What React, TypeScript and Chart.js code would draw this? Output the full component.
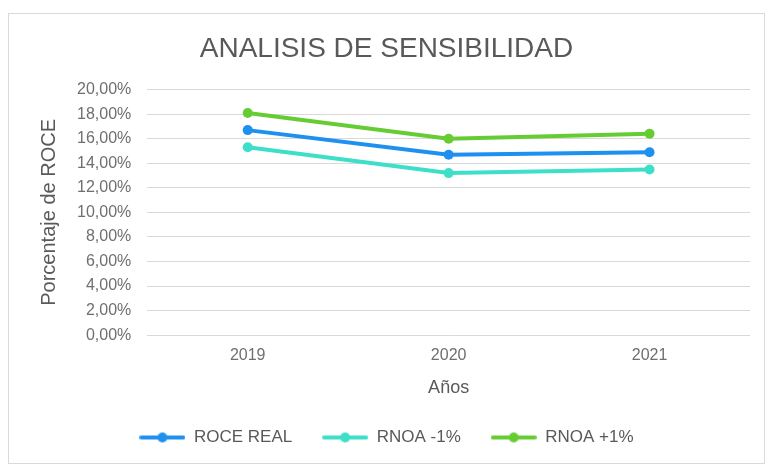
import React, { useEffect, useRef } from "react";
import { Chart, registerables } from "chart.js";

Chart.register(...registerables);

const categories = ["2019", "2020", "2021"];
const roceReal = [0.167, 0.147, 0.149];
const rnoaMinus = [0.153, 0.132, 0.135];
const rnoaPlus = [0.181, 0.160, 0.164];
const seriesNames = ["ROCE REAL", "RNOA -1%", "RNOA +1%"];
const seriesColors = ["#1E90F0", "#3EDFC8", "#66CC33"];

const FONT = "'Liberation Sans', Arial, sans-serif";
const GRAY = "#595959";
const TICK_GRAY = "#6f6f6f";

function legendIcon(color: string): HTMLCanvasElement {
  const c = document.createElement("canvas");
  c.width = 46;
  c.height = 12;
  const ctx = c.getContext("2d")!;
  ctx.strokeStyle = color;
  ctx.lineWidth = 4;
  ctx.lineCap = "round";
  ctx.beginPath();
  ctx.moveTo(2, 6);
  ctx.lineTo(44, 6);
  ctx.stroke();
  ctx.fillStyle = color;
  ctx.beginPath();
  ctx.arc(23, 6, 5, 0, Math.PI * 2);
  ctx.fill();
  return c;
}

export default function App() {
  const ref = useRef<HTMLCanvasElement>(null);
  useEffect(() => {
    const values = [roceReal, rnoaMinus, rnoaPlus];
    const chart = new Chart(ref.current!, {
      type: "line",
      data: {
        labels: categories,
        datasets: values.map((v, i) => ({
          label: seriesNames[i],
          data: v,
          borderColor: seriesColors[i],
          backgroundColor: seriesColors[i],
          borderWidth: 4,
          pointRadius: 5,
          pointBackgroundColor: seriesColors[i],
          pointBorderWidth: 0,
          pointStyle: "circle",
          tension: 0,
        })),
      },
      options: {
        animation: false,
        responsive: true,
        maintainAspectRatio: false,
        layout: { padding: { left: 14, right: 14, top: 10, bottom: 7 } },
        plugins: {
          title: {
            display: true,
            text: "ANALISIS DE SENSIBILIDAD",
            color: GRAY,
            font: { family: FONT, size: 28, weight: "normal" },
            padding: { top: 8, bottom: 24 },
          },
          legend: {
            position: "bottom",
            labels: {
              color: GRAY,
              font: { family: FONT, size: 17 },
              usePointStyle: true,
              pointStyleWidth: 46,
              padding: 30,
              generateLabels: (ch: any) =>
                ch.data.datasets.map((d: any, i: number) => ({
                  text: d.label,
                  fillStyle: seriesColors[i],
                  strokeStyle: seriesColors[i],
                  lineWidth: 0,
                  pointStyle: legendIcon(seriesColors[i]),
                  datasetIndex: i,
                  hidden: false,
                  fontColor: GRAY,
                })),
            },
          },
          tooltip: { enabled: false },
        },
        scales: {
          x: {
            offset: true,
            grid: { display: false },
            border: { display: false },
            ticks: { color: TICK_GRAY, font: { family: FONT, size: 16 }, padding: 3 },
            title: {
              display: true,
              text: "Años",
              color: GRAY,
              font: { family: FONT, size: 18 },
              padding: { top: 9, bottom: 0 },
            },
          },
          y: {
            min: 0,
            max: 0.2,
            grid: { color: "#d9d9d9", lineWidth: 1, drawTicks: false },
            border: { display: false },
            ticks: {
              stepSize: 0.02,
              color: TICK_GRAY,
              font: { family: FONT, size: 16 },
              padding: 16,
              callback: (v: any) => (Number(v) * 100).toFixed(2).replace(".", ",") + "%",
            },
            title: {
              display: true,
              text: "Porcentaje de ROCE",
              color: GRAY,
              font: { family: FONT, size: 20 },
              padding: { top: 14, bottom: 0 },
            },
          },
        },
      },
    });
    return () => chart.destroy();
  }, []);
  return (
    <div
      style={{
        position: "fixed",
        left: 8,
        top: 13,
        width: 757,
        height: 451,
        border: "1px solid #d9d9d9",
        boxSizing: "border-box",
        background: "#fff",
      }}
    >
      <canvas ref={ref} />
    </div>
  );
}
